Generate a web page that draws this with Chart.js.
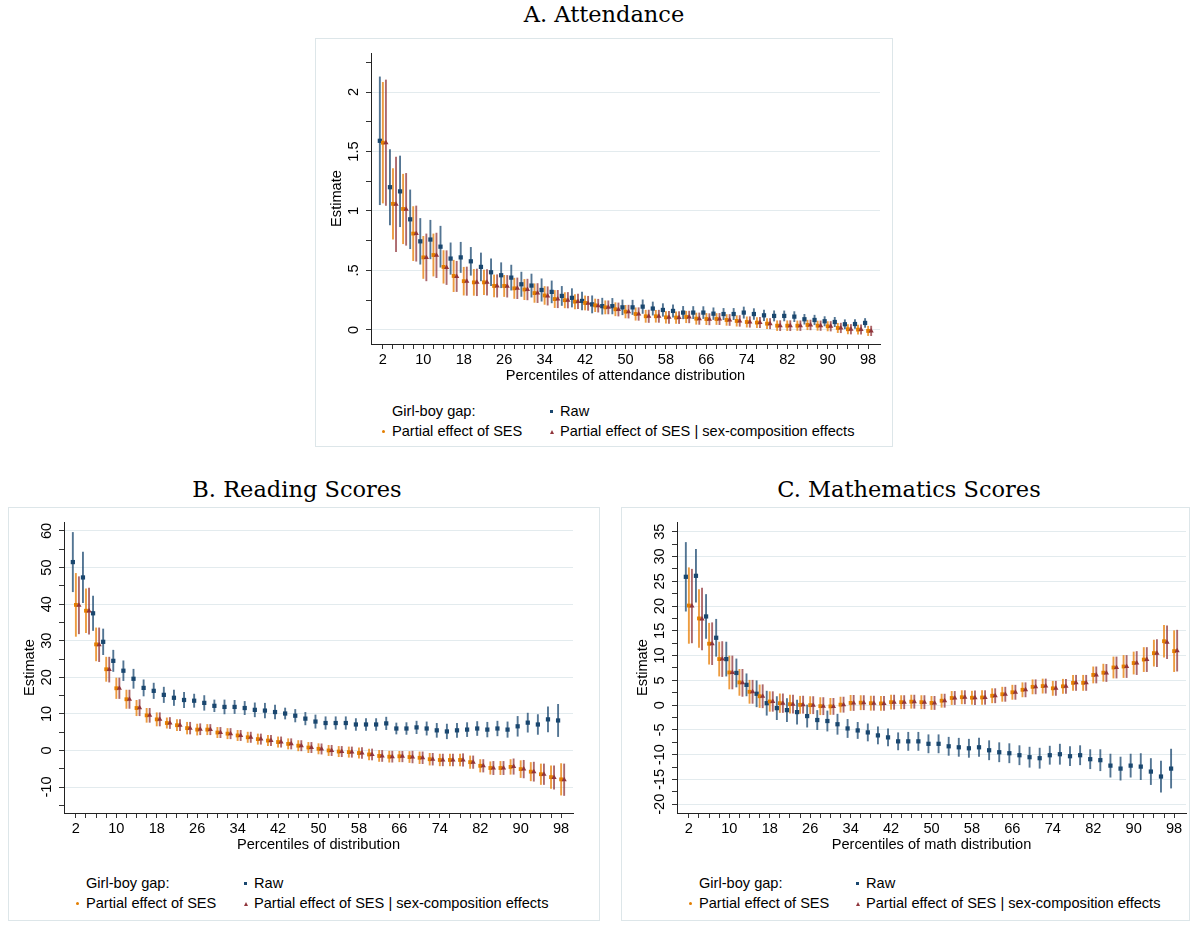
<!DOCTYPE html>
<html>
<head>
<meta charset="utf-8">
<script src="https://cdn.jsdelivr.net/npm/chart.js@4.4.1/dist/chart.umd.min.js"></script>
<style>
  body { margin: 0; background: #fff; width: 1194px; height: 926px; position: relative; overflow: hidden;
         font-family: "Liberation Sans", Arial, sans-serif; color: #000; }
  .box { position: absolute; border: 1px solid #dde6e9; box-sizing: border-box; }
  .ptitle { position: absolute; font-family: "DejaVu Serif", serif; font-size: 22.5px; line-height: 26px;
            white-space: nowrap; transform: translateX(-50%); }
  canvas { position: absolute; }
  .leg { position: absolute; font-size: 14.6px; line-height: 16px; white-space: nowrap; }
  .mk { position: absolute; }
  .sq { width: 3px; height: 3px; background: #1a476f; }
  .dot { width: 3px; height: 3px; border-radius: 50%; background: #e37e00; }
  .tri { width: 0; height: 0; border-left: 2px solid transparent; border-right: 2px solid transparent; border-bottom: 4px solid #90353b; }
</style>
</head>
<body>

<div class="box" style="left:315px;top:38px;width:578px;height:409px"></div>
<div class="box" style="left:8px;top:507px;width:592px;height:414px"></div>
<div class="box" style="left:621px;top:507px;width:569px;height:414px"></div>

<div class="ptitle" style="left:604px;top:1px">A. Attendance</div>
<div class="ptitle" style="left:297px;top:476px">B. Reading Scores</div>
<div class="ptitle" style="left:909px;top:476px">C. Mathematics Scores</div>

<canvas id="att" width="578" height="360" style="left:315px;top:38px"></canvas>
<canvas id="read" width="578" height="360" style="left:8px;top:507px"></canvas>
<canvas id="math" width="578" height="360" style="left:621px;top:507px"></canvas>

<div id="legends"></div>

<script>
// percentiles on the x axis
const pctl = [2, 4, 6, 8, 10, 12, 14, 16, 18, 20, 22, 24, 26, 28, 30, 32, 34, 36, 38, 40, 42, 44, 46, 48, 50,
              52, 54, 56, 58, 60, 62, 64, 66, 68, 70, 72, 74, 76, 78, 80, 82, 84, 86, 88, 90, 92, 94, 96, 98];
const xTickLabels = [2, 10, 18, 26, 34, 42, 50, 58, 66, 74, 82, 90, 98];

// A. Attendance (estimate and half-width of the confidence interval)
const attRaw = [1.59, 1.20, 1.165, 0.93, 0.745, 0.76, 0.70, 0.60, 0.61, 0.577, 0.53, 0.485, 0.46, 0.44, 0.384, 0.373, 0.336, 0.32, 0.286, 0.27,
                0.244, 0.215, 0.20, 0.20, 0.19, 0.19, 0.196, 0.18, 0.168, 0.16, 0.146, 0.146, 0.146, 0.137, 0.134, 0.134, 0.146, 0.134, 0.123, 0.118,
                0.118, 0.112, 0.09, 0.084, 0.073, 0.067, 0.048, 0.05, 0.059];
const attRawCI = [0.54, 0.32, 0.30, 0.25, 0.195, 0.165, 0.175, 0.135, 0.13, 0.12, 0.12, 0.115, 0.108, 0.108, 0.105, 0.10, 0.097, 0.095, 0.083, 0.08,
                  0.078, 0.075, 0.07, 0.068, 0.065, 0.063, 0.06, 0.058, 0.056, 0.055, 0.055, 0.054, 0.053, 0.052, 0.05, 0.05, 0.05, 0.048, 0.047, 0.046,
                  0.045, 0.045, 0.044, 0.043, 0.042, 0.042, 0.041, 0.04, 0.04];
const attSes = [1.574, 1.06, 1.017, 0.81, 0.61, 0.63, 0.53, 0.454, 0.41, 0.40, 0.40, 0.37, 0.37, 0.35, 0.34, 0.31, 0.29, 0.26, 0.25, 0.238,
                0.227, 0.207, 0.19, 0.174, 0.154, 0.134, 0.115, 0.115, 0.106, 0.104, 0.109, 0.095, 0.092, 0.092, 0.084, 0.076, 0.067, 0.062, 0.053, 0.036,
                0.036, 0.036, 0.042, 0.036, 0.031, 0.017, 0.006, 0.003, -0.008];
const attSesCI = [0.51, 0.30, 0.295, 0.23, 0.18, 0.18, 0.14, 0.135, 0.12, 0.112, 0.107, 0.095, 0.092, 0.088, 0.088, 0.081, 0.078, 0.075, 0.067, 0.063,
                  0.062, 0.056, 0.058, 0.058, 0.056, 0.055, 0.054, 0.053, 0.052, 0.052, 0.051, 0.05, 0.05, 0.049, 0.048, 0.047, 0.046, 0.045, 0.045, 0.044,
                  0.044, 0.043, 0.043, 0.042, 0.042, 0.042, 0.042, 0.041, 0.042];
const attSex = [1.574, 1.056, 1.014, 0.81, 0.61, 0.627, 0.524, 0.45, 0.41, 0.40, 0.40, 0.37, 0.367, 0.35, 0.34, 0.31, 0.286, 0.26, 0.25, 0.24,
                0.224, 0.204, 0.19, 0.172, 0.154, 0.134, 0.115, 0.115, 0.106, 0.104, 0.109, 0.095, 0.09, 0.092, 0.084, 0.076, 0.067, 0.062, 0.053, 0.036,
                0.036, 0.036, 0.042, 0.036, 0.031, 0.017, 0.006, 0.003, -0.008];
const attSexCI = [0.53, 0.40, 0.305, 0.235, 0.20, 0.19, 0.145, 0.13, 0.122, 0.115, 0.11, 0.097, 0.094, 0.09, 0.09, 0.083, 0.08, 0.076, 0.068, 0.064,
                  0.062, 0.057, 0.058, 0.058, 0.057, 0.056, 0.055, 0.054, 0.053, 0.053, 0.052, 0.051, 0.05, 0.05, 0.049, 0.048, 0.047, 0.046, 0.046, 0.045,
                  0.045, 0.044, 0.044, 0.043, 0.043, 0.043, 0.043, 0.042, 0.043];
const attYTicks = [0, 0.5, 1, 1.5, 2];
const attYLabels = ['0', '.5', '1', '1.5', '2'];

// B. Reading scores
const readRaw = [51.5, 47.3, 37.5, 29.7, 24.5, 21.8, 19.6, 17.1, 16.3, 15.2, 14.4, 13.8, 13.6, 13.0, 12.2, 11.9, 11.9, 11.6, 11.1, 10.9,
                 10.5, 10.1, 9.5, 8.7, 7.9, 7.5, 7.5, 7.5, 7.1, 7.1, 7.1, 7.4, 6.0, 6.0, 6.3, 6.0, 5.5, 5.2, 5.5, 5.7,
                 6.0, 5.7, 6.0, 5.7, 6.6, 7.6, 7.1, 8.5, 8.2];
const readRawCI = [8.2, 7.0, 4.8, 3.6, 3.0, 2.8, 2.7, 2.3, 2.2, 2.2, 2.2, 2.2, 1.9, 2.1, 1.7, 2.0, 1.9, 1.9, 2.0, 2.1,
                   2.0, 1.6, 1.8, 1.8, 1.9, 1.8, 1.8, 1.8, 1.7, 1.7, 1.7, 1.8, 1.6, 1.7, 1.8, 1.9, 2.0, 2.1, 2.0, 2.0,
                   2.0, 2.1, 2.1, 2.2, 2.8, 2.7, 2.8, 3.5, 4.5];
const readSes = [39.8, 38.2, 29.0, 22.2, 17.0, 14.0, 11.6, 9.6, 8.5, 7.5, 6.9, 6.1, 5.7, 5.7, 4.9, 4.6, 4.1, 3.6, 3.1, 2.7,
                 2.3, 1.8, 1.3, 0.8, 0.45, 0.0, -0.3, -0.45, -0.7, -1.1, -1.5, -1.7, -1.6, -1.8, -2.0, -2.4, -2.6, -2.6, -2.6, -3.2,
                 -4.2, -4.8, -4.8, -4.5, -5.1, -5.8, -6.5, -7.3, -7.9];
const readSesCI = [8.7, 6.1, 4.6, 3.4, 2.9, 2.6, 2.2, 2.0, 1.9, 1.5, 1.6, 1.7, 1.6, 1.5, 1.5, 1.5, 1.5, 1.5, 1.5, 1.5,
                   1.5, 1.5, 1.5, 1.5, 1.5, 1.5, 1.5, 1.5, 1.5, 1.6, 1.6, 1.6, 1.6, 1.6, 1.7, 1.7, 1.7, 1.7, 1.7, 1.8,
                   1.8, 1.8, 1.9, 2.1, 2.4, 2.6, 2.9, 3.2, 4.4];
const readSex = [39.7, 38.1, 28.9, 22.1, 17.0, 14.0, 11.7, 9.6, 8.5, 7.5, 6.9, 6.1, 5.8, 5.7, 4.9, 4.6, 4.1, 3.6, 3.1, 2.7,
                 2.3, 1.8, 1.3, 0.8, 0.4, 0.0, -0.3, -0.45, -0.7, -1.1, -1.5, -1.7, -1.6, -1.8, -2.0, -2.4, -2.6, -2.6, -2.6, -3.2,
                 -4.2, -4.8, -4.8, -4.4, -5.1, -5.8, -6.5, -7.4, -8.0];
const readSexCI = [7.9, 6.4, 4.7, 3.5, 2.9, 2.6, 2.3, 2.0, 1.9, 1.6, 1.6, 1.7, 1.6, 1.5, 1.5, 1.5, 1.5, 1.5, 1.5, 1.5,
                   1.5, 1.5, 1.5, 1.5, 1.5, 1.5, 1.5, 1.5, 1.6, 1.6, 1.6, 1.6, 1.6, 1.7, 1.7, 1.7, 1.7, 1.7, 1.8, 1.8,
                   1.8, 1.9, 1.9, 2.2, 2.5, 2.7, 2.9, 3.3, 4.4];
const readYTicks = [-10, 0, 10, 20, 30, 40, 50, 60];
const readYLabels = ['-10', '0', '10', '20', '30', '40', '50', '60'];

// C. Mathematics scores
const mathRaw = [25.9, 26.1, 17.9, 13.6, 9.3, 6.5, 4.1, 2.3, 0.4, -0.6, -1.0, -1.4, -2.2, -3.0, -3.2, -3.85, -4.7, -5.1, -5.5, -6.1,
                 -6.5, -7.3, -7.3, -7.3, -7.8, -7.8, -8.3, -8.5, -8.7, -8.5, -9.1, -9.5, -9.7, -10.1, -10.5, -10.7, -10.1, -9.9, -10.3, -10.1,
                 -10.9, -11.1, -12.2, -12.8, -12.2, -12.4, -13.4, -14.4, -12.8];
const mathRawCI = [7.0, 5.4, 4.5, 3.8, 3.5, 2.9, 2.3, 2.7, 2.5, 2.4, 2.4, 2.5, 2.3, 2.0, 2.1, 2.1, 1.9, 1.7, 1.8, 1.8,
                   1.8, 1.8, 1.9, 1.9, 1.9, 1.9, 1.9, 1.9, 1.9, 1.9, 2.0, 2.0, 2.0, 2.0, 2.1, 2.1, 1.9, 2.1, 2.0, 2.0,
                   2.0, 2.2, 2.4, 2.4, 2.4, 2.7, 2.7, 3.2, 4.0];
const mathSes = [20.1, 17.5, 12.4, 9.3, 6.6, 4.6, 2.7, 1.8, 0.74, 0.4, 0.2, 0.07, 0.0, -0.2, -0.25, 0.1, 0.45, 0.5, 0.4, 0.35,
                 0.6, 0.6, 0.7, 0.6, 0.45, 0.9, 1.45, 1.6, 1.5, 1.55, 1.9, 2.2, 2.6, 3.1, 3.7, 3.85, 3.4, 3.8, 4.5, 4.5,
                 6.1, 6.55, 7.6, 7.8, 8.5, 9.2, 10.5, 12.9, 10.9];
const mathSesCI = [7.7, 5.9, 4.2, 3.5, 3.4, 2.7, 2.4, 2.35, 2.05, 1.95, 1.9, 1.8, 1.8, 1.8, 1.7, 1.6, 1.6, 1.5, 1.5, 1.5,
                   1.5, 1.4, 1.4, 1.4, 1.4, 1.4, 1.4, 1.4, 1.4, 1.45, 1.5, 1.5, 1.5, 1.5, 1.5, 1.5, 1.5, 1.5, 1.6, 1.6,
                   1.7, 1.8, 2.2, 2.3, 2.3, 2.5, 2.7, 3.3, 4.2];
const mathSex = [20.0, 17.4, 12.4, 9.3, 6.6, 4.5, 2.7, 1.8, 0.74, 0.4, 0.2, 0.1, 0.0, -0.2, -0.25, 0.1, 0.45, 0.5, 0.4, 0.35,
                 0.6, 0.6, 0.7, 0.6, 0.45, 0.9, 1.45, 1.6, 1.5, 1.55, 1.9, 2.2, 2.6, 3.1, 3.7, 3.85, 3.4, 3.8, 4.5, 4.5,
                 6.1, 6.5, 7.6, 7.8, 8.5, 9.2, 10.5, 12.7, 11.0];
const mathSexCI = [7.5, 6.3, 4.3, 3.6, 3.4, 2.8, 2.4, 2.4, 2.05, 1.95, 1.9, 1.8, 1.8, 1.8, 1.7, 1.6, 1.6, 1.5, 1.5, 1.5,
                   1.5, 1.4, 1.4, 1.4, 1.4, 1.4, 1.4, 1.4, 1.45, 1.45, 1.5, 1.5, 1.5, 1.5, 1.5, 1.5, 1.5, 1.5, 1.6, 1.6,
                   1.7, 1.8, 2.2, 2.3, 2.4, 2.5, 2.8, 3.4, 4.2];
const mathYTicks = [-20, -15, -10, -5, 0, 5, 10, 15, 20, 25, 30, 35];
const mathYLabels = ['-20', '-15', '-10', '-5', '0', '5', '10', '15', '20', '25', '30', '35'];

const legendLabels = ['Girl-boy gap:', 'Raw', 'Partial effect of SES', 'Partial effect of SES | sex-composition effects'];

const FONT = '"Liberation Sans", Arial, sans-serif';
const NAVY = '#1a476f', ORANGE = '#e37e00', MAROON = '#90353b';

// draws the y tick labels turned 90 degrees, like Stata does
const yLabelPlugin = {
  id: 'yLabels',
  afterDraw(chart, args, opts) {
    const y = chart.scales.y;
    const ctx = chart.ctx;
    ctx.save();
    ctx.font = '14.6px ' + FONT;
    ctx.fillStyle = '#000';
    ctx.textAlign = 'center';
    ctx.textBaseline = 'alphabetic';
    opts.values.forEach((v, i) => {
      ctx.save();
      ctx.translate(y.right - 13, y.getPixelForValue(v));
      ctx.rotate(-Math.PI / 2);
      ctx.fillText(opts.labels[i], 0, 0);
      ctx.restore();
    });
    ctx.restore();
  }
};

// thin floating bars used as confidence-interval spikes
function ciBars(est, ci, dx, color, order) {
  return {
    type: 'bar', order: order, grouped: false,
    data: pctl.map((p, i) => ({ x: p + dx, y: [est[i] - ci[i], est[i] + ci[i]] })),
    backgroundColor: color, borderWidth: 0, borderSkipped: false, maxBarThickness: 1.9
  };
}

function markers(est, dx, color, style, r, order) {
  return {
    type: 'scatter', order: order,
    data: pctl.map((p, i) => ({ x: p + dx, y: est[i] })),
    pointStyle: style, pointRadius: r, pointBackgroundColor: color, pointBorderWidth: 0
  };
}

function makePanel(id, p) {
  const majors = p.yTicks;
  const minors = [];
  for (let v = p.minorFrom; v <= p.minorTo + 1e-9; v += p.minorStep) minors.push(Math.round(v * 1000) / 1000);
  const isMajor = v => majors.some(m => Math.abs(m - v) < 1e-6);

  return new Chart(document.getElementById(id), {
    type: 'bar',
    data: {
      datasets: [
        markers(p.sex, 0.6, MAROON, 'triangle', 3, 0),
        markers(p.ses, 0, ORANGE, 'rect', 2.7, 1),
        markers(p.raw, -0.6, NAVY, 'rect', 3, 2),
        ciBars(p.sex, p.sexCI, 0.6, 'rgba(144,53,59,0.75)', 3),
        ciBars(p.ses, p.sesCI, 0, 'rgba(232,128,10,0.78)', 4),
        ciBars(p.raw, p.rawCI, -0.6, 'rgba(26,71,111,0.75)', 5)
      ]
    },
    options: {
      responsive: false,
      animation: false,
      layout: { padding: { top: 15, right: 13, left: 0, bottom: 0 } },
      plugins: {
        legend: { display: false },
        tooltip: { enabled: false },
        yLabels: { values: p.yTicks, labels: p.yLabels }
      },
      scales: {
        x: {
          type: 'linear', min: -0.35, max: 100.35, offset: false,
          afterBuildTicks: s => { s.ticks = pctl.map(v => ({ value: v })); },
          afterFit: s => { s.height = 54; },
          grid: { drawOnChartArea: false, offset: false, tickLength: 5, color: '#333', tickColor: '#333' },
          border: { color: '#222', width: 1 },
          ticks: {
            autoSkip: false, maxRotation: 0, minRotation: 0, padding: 2, color: '#000',
            font: { family: FONT, size: 14.6 },
            callback: v => xTickLabels.includes(v) ? String(v) : ''
          },
          title: { display: true, text: p.xTitle, color: '#000', font: { family: FONT, size: 14.6 }, padding: { top: 0, bottom: 13 } }
        },
        y: {
          type: 'linear', min: p.yMin, max: p.yMax,
          afterBuildTicks: s => { s.ticks = minors.map(v => ({ value: v })); },
          afterFit: s => { s.width = 56; },
          grid: {
            color: c => (c.tick && isMajor(c.tick.value)) ? '#e3ebee' : 'rgba(0,0,0,0)',
            tickColor: '#333', tickLength: 5
          },
          border: { color: '#222', width: 1 },
          ticks: { display: false },
          title: { display: true, text: 'Estimate', color: '#000', font: { family: FONT, size: 14.6 }, padding: { top: 13, bottom: 0 } }
        }
      }
    },
    plugins: [yLabelPlugin]
  });
}

makePanel('att', {
  raw: attRaw, rawCI: attRawCI, ses: attSes, sesCI: attSesCI, sex: attSex, sexCI: attSexCI,
  yTicks: attYTicks, yLabels: attYLabels, minorFrom: 0, minorTo: 2.25, minorStep: 0.25,
  yMin: -0.118, yMax: 2.328, xTitle: 'Percentiles of attendance distribution'
});
makePanel('read', {
  raw: readRaw, rawCI: readRawCI, ses: readSes, sesCI: readSesCI, sex: readSex, sexCI: readSexCI,
  yTicks: readYTicks, yLabels: readYLabels, minorFrom: -15, minorTo: 60, minorStep: 5,
  yMin: -17.1, yMax: 62.46, xTitle: 'Percentiles of distribution'
});
makePanel('math', {
  raw: mathRaw, rawCI: mathRawCI, ses: mathSes, sesCI: mathSesCI, sex: mathSex, sexCI: mathSexCI,
  yTicks: mathYTicks, yLabels: mathYLabels, minorFrom: -20, minorTo: 35, minorStep: 2.5,
  yMin: -21.76, yMax: 36.96, xTitle: 'Percentiles of math distribution'
});

// legends: two columns, header in the first slot
function addLegend(col1, col2, row1, row2) {
  const host = document.getElementById('legends');
  const items = [
    { x: col1, y: row1, mk: null, text: legendLabels[0] },
    { x: col2, y: row1, mk: 'sq', text: legendLabels[1] },
    { x: col1, y: row2, mk: 'dot', text: legendLabels[2] },
    { x: col2, y: row2, mk: 'tri', text: legendLabels[3] }
  ];
  items.forEach(it => {
    const t = document.createElement('div');
    t.className = 'leg';
    t.style.left = it.x + 'px';
    t.style.top = (it.y - 8) + 'px';
    t.textContent = it.text;
    host.appendChild(t);
    if (it.mk) {
      const m = document.createElement('div');
      m.className = 'mk ' + it.mk;
      m.style.left = (it.x - 10) + 'px';
      m.style.top = (it.y - 1) + 'px';
      host.appendChild(m);
    }
  });
}
addLegend(392, 560, 411, 431);
addLegend(86, 254, 883, 903);
addLegend(699, 866, 883, 903);
</script>
</body>
</html>
